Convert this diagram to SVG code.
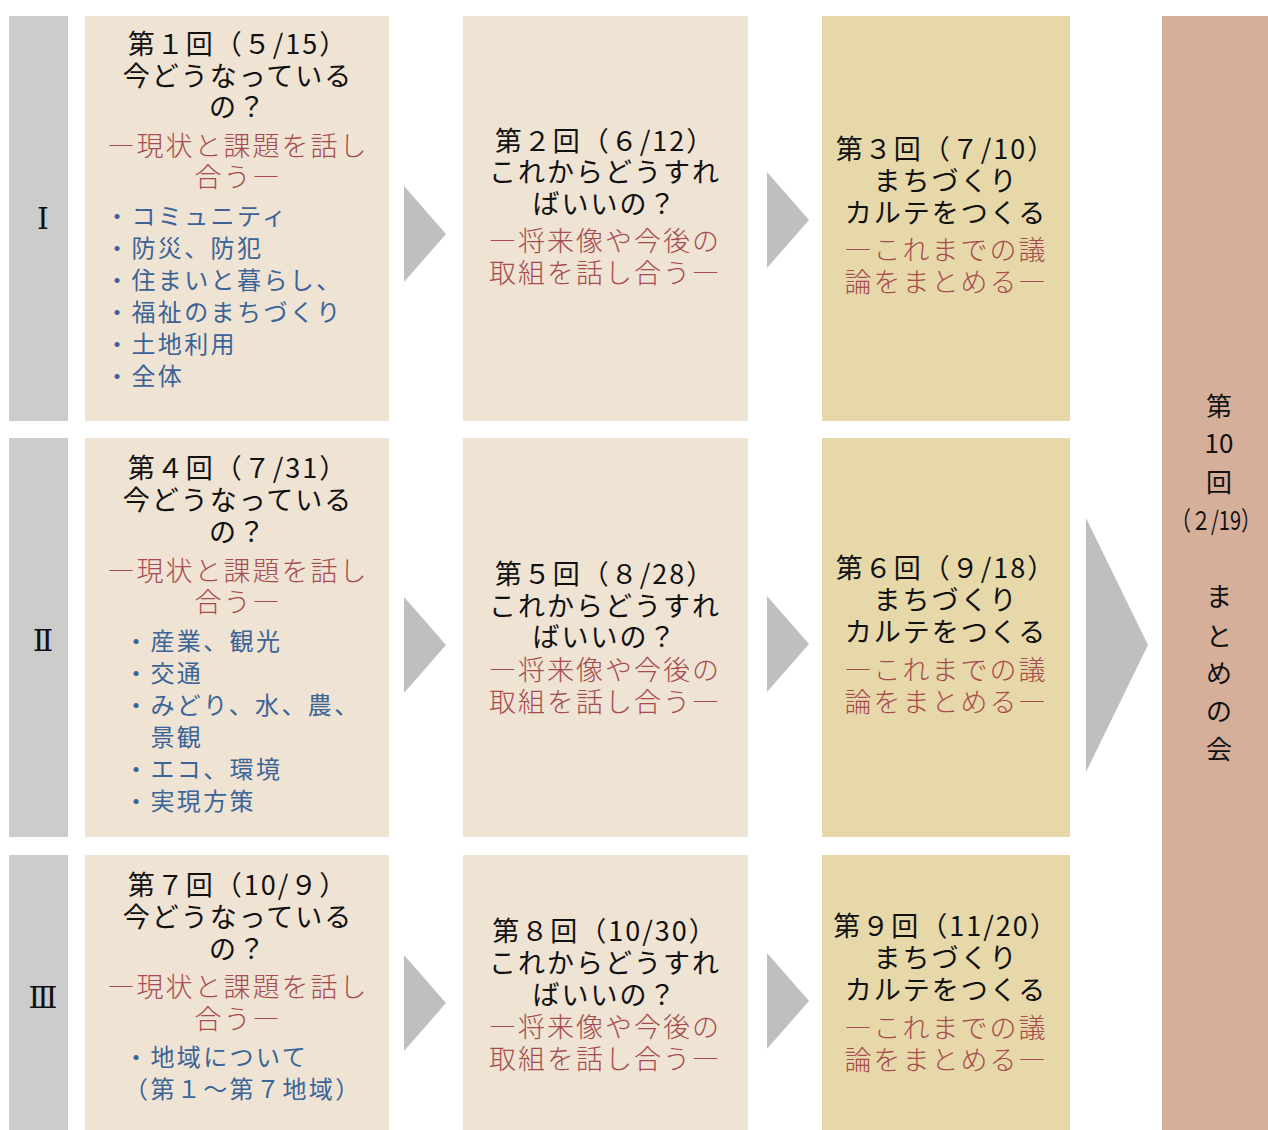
<svg xmlns="http://www.w3.org/2000/svg" width="1268" height="1130" viewBox="0 0 1268 1130">
<style>
.side{fill:#cccccc}
.b1{fill:#efe3d4}
.b3{fill:#e6d8a9}
.fin{fill:#d5af9a}
.arr{fill:#bfbfbf}
text{font-family:"Noto Sans CJK JP","Noto Sans CJK SC",sans-serif}
.t{font-size:27px;fill:#111111;text-anchor:middle;letter-spacing:2px}
.r{font-size:27px;fill:#a64b4e;text-anchor:middle;letter-spacing:2px;font-weight:300}
.u{font-size:24px;fill:#3b6497;letter-spacing:2.4px}
.rn{font-family:"DejaVu Serif","Liberation Serif","Noto Sans CJK JP",serif;font-size:30px;fill:#111111;text-anchor:middle}
.v{font-size:26px;fill:#111111;text-anchor:middle}
</style>
<rect width="1268" height="1130" fill="#ffffff"/>

<g id="row1-label"><rect class="side" x="9" y="16" width="59" height="405"/><text class="rn" x="43" y="229">Ⅰ</text></g>
<g id="row2-label"><rect class="side" x="9" y="438" width="59" height="399"/><text class="rn" x="43" y="651">Ⅱ</text></g>
<g id="row3-label"><rect class="side" x="9" y="855" width="59" height="275"/><text class="rn" x="43" y="1008">Ⅲ</text></g>

<g id="s1">
<rect class="b1" x="85" y="16" width="304" height="405"/>
<text class="t" x="238" y="54">第１回（５/15）</text>
<text class="t" x="238" y="86">今どうなっている</text>
<text class="t" x="238" y="117">の？</text>
<text class="r" x="238" y="156">―現状と課題を話し</text>
<text class="r" x="238" y="187">合う―</text>
<text class="u" x="105" y="225">・コミュニティ</text>
<text class="u" x="105" y="257">・防災、防犯</text>
<text class="u" x="105" y="289">・住まいと暮らし、</text>
<text class="u" x="105" y="321">・福祉のまちづくり</text>
<text class="u" x="105" y="353">・土地利用</text>
<text class="u" x="105" y="385">・全体</text>
</g>
<g id="s2">
<rect class="b1" x="463" y="16" width="285" height="405"/>
<text class="t" x="605" y="151">第２回（６/12）</text>
<text class="t" x="605" y="182">これからどうすれ</text>
<text class="t" x="605" y="214">ばいいの？</text>
<text class="r" x="605" y="251">―将来像や今後の</text>
<text class="r" x="605" y="283">取組を話し合う―</text>
</g>
<g id="s3">
<rect class="b3" x="822" y="16" width="248" height="405"/>
<text class="t" x="946" y="159">第３回（７/10）</text>
<text class="t" x="946" y="191">まちづくり</text>
<text class="t" x="946" y="223">カルテをつくる</text>
<text class="r" x="946" y="260">―これまでの議</text>
<text class="r" x="946" y="292">論をまとめる―</text>
</g>

<g id="s4">
<rect class="b1" x="85" y="438" width="304" height="399"/>
<text class="t" x="238" y="478">第４回（７/31）</text>
<text class="t" x="238" y="510">今どうなっている</text>
<text class="t" x="238" y="542">の？</text>
<text class="r" x="238" y="581">―現状と課題を話し</text>
<text class="r" x="238" y="612">合う―</text>
<text class="u" x="124" y="650">・産業、観光</text>
<text class="u" x="124" y="682">・交通</text>
<text class="u" x="124" y="714">・みどり、水、農、</text>
<text class="u" x="124" y="746">　景観</text>
<text class="u" x="124" y="778">・エコ、環境</text>
<text class="u" x="124" y="810">・実現方策</text>
</g>
<g id="s5">
<rect class="b1" x="463" y="438" width="285" height="399"/>
<text class="t" x="605" y="584">第５回（８/28）</text>
<text class="t" x="605" y="616">これからどうすれ</text>
<text class="t" x="605" y="647">ばいいの？</text>
<text class="r" x="605" y="680">―将来像や今後の</text>
<text class="r" x="605" y="712">取組を話し合う―</text>
</g>
<g id="s6">
<rect class="b3" x="822" y="438" width="248" height="399"/>
<text class="t" x="946" y="578">第６回（９/18）</text>
<text class="t" x="946" y="610">まちづくり</text>
<text class="t" x="946" y="642">カルテをつくる</text>
<text class="r" x="946" y="680">―これまでの議</text>
<text class="r" x="946" y="712">論をまとめる―</text>
</g>

<g id="s7">
<rect class="b1" x="85" y="855" width="304" height="275"/>
<text class="t" x="238" y="895">第７回（10/９）</text>
<text class="t" x="238" y="927">今どうなっている</text>
<text class="t" x="238" y="959">の？</text>
<text class="r" x="238" y="997">―現状と課題を話し</text>
<text class="r" x="238" y="1029">合う―</text>
<text class="u" x="124" y="1066">・地域について</text>
<text class="u" x="124" y="1098">（第１～第７地域）</text>
</g>
<g id="s8">
<rect class="b1" x="463" y="855" width="285" height="275"/>
<text class="t" x="605" y="941">第８回（10/30）</text>
<text class="t" x="605" y="973">これからどうすれ</text>
<text class="t" x="605" y="1005">ばいいの？</text>
<text class="r" x="605" y="1037">―将来像や今後の</text>
<text class="r" x="605" y="1069">取組を話し合う―</text>
</g>
<g id="s9">
<rect class="b3" x="822" y="855" width="248" height="275"/>
<text class="t" x="946" y="936">第９回（11/20）</text>
<text class="t" x="946" y="968">まちづくり</text>
<text class="t" x="946" y="1000">カルテをつくる</text>
<text class="r" x="946" y="1038">―これまでの議</text>
<text class="r" x="946" y="1070">論をまとめる―</text>
</g>

<g id="s10">
<rect class="fin" x="1162" y="16" width="106" height="1114"/>
<text class="v" x="1219" y="416">第</text>
<text class="v" x="1219" y="453">10</text>
<text class="v" x="1219" y="492">回</text>
<text class="v" x="1216" y="530" textLength="90" lengthAdjust="spacingAndGlyphs">（２/19）</text>
<text class="v" x="1219" y="606">ま</text>
<text class="v" x="1219" y="646">と</text>
<text class="v" x="1219" y="683">め</text>
<text class="v" x="1219" y="721">の</text>
<text class="v" x="1219" y="759">会</text>
</g>

<g id="connectors">
<polygon class="arr" points="404,186 446,234 404,282"/>
<polygon class="arr" points="767,172 809,220 767,268"/>
<polygon class="arr" points="404,597 446,645 404,693"/>
<polygon class="arr" points="767,596 809,644 767,692"/>
<polygon class="arr" points="404,955 446,1003 404,1051"/>
<polygon class="arr" points="767,953 809,1001 767,1049"/>
<polygon class="arr" points="1086,518 1148,645 1086,772"/>
</g>
</svg>
